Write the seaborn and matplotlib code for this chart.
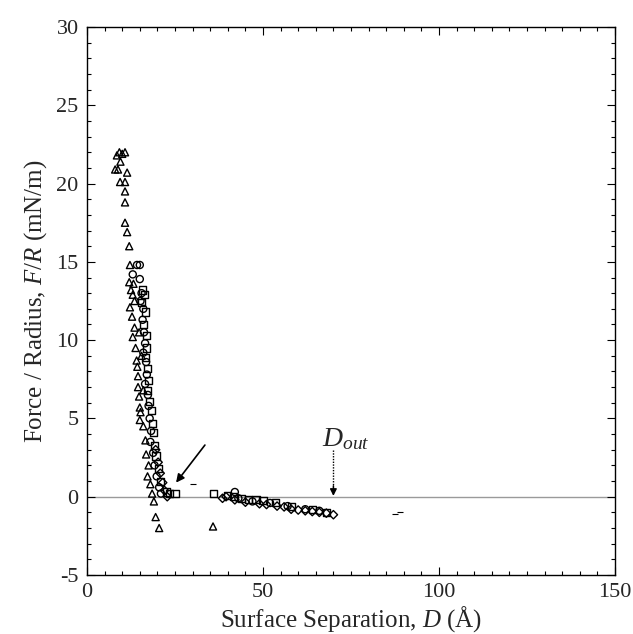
import matplotlib
matplotlib.use("Agg")
import matplotlib.pyplot as plt
import seaborn as sns
import pandas as pd

# ---- data ----
tri_D = [8.5, 9.2, 10.0, 10.8, 9.5, 8.0, 8.8, 11.4, 9.4, 10.8, 10.8, 10.8, 10.8, 11.4, 12.0,
         12.2, 12.0, 12.5, 13.0, 12.2, 13.5, 12.8, 13.5, 13.0, 13.8, 14.1, 14.3, 14.5, 14.5,
         14.8, 15.0, 15.2, 15.0, 16.0, 16.6, 16.8, 17.5, 17.2, 18.0, 18.5, 19.0, 19.5, 20.5,
         35.8, 14.8, 15.5, 16.0, 13.2]
tri_F = [21.8, 22.0, 21.9, 22.0, 21.4, 20.9, 20.9, 20.7, 20.1, 20.1, 19.5, 18.8, 17.5, 16.9, 16.0,
         14.8, 13.7, 13.2, 12.9, 12.1, 12.5, 11.5, 10.8, 10.2, 9.5, 8.7, 8.3, 7.7, 7.0,
         6.4, 5.7, 5.4, 4.9, 4.5, 3.6, 2.7, 2.0, 1.3, 0.8, 0.2, -0.3, -1.3, -2.0,
         -1.9, 10.5, 9.0, 6.8, 13.6]

cir_D = [14.2, 15.0, 13.0, 15.0, 15.5, 15.2, 16.0, 15.8, 16.2, 16.5, 16.0, 16.8, 17.0, 16.5,
         17.3, 17.5, 17.8, 18.2, 18.0, 18.8, 19.2, 19.8, 20.5, 21.0, 42.0, 43.0, 47.0, 52.0,
         57.0, 62.0, 66.0]
cir_F = [14.8, 14.8, 14.2, 13.9, 13.0, 12.5, 12.0, 11.3, 10.5, 9.8, 9.2, 8.6, 7.8, 7.2,
         6.5, 5.8, 5.0, 4.2, 3.5, 2.8, 2.0, 1.3, 0.6, 0.2, 0.3, -0.1, -0.3, -0.4,
         -0.6, -0.8, -0.9]

sq_D = [15.8, 16.3, 15.5, 16.5, 16.0, 16.8, 17.0, 16.7, 17.2, 17.6, 17.3, 17.8, 18.2, 18.6,
        19.0, 19.3, 19.6, 20.2, 21.0, 22.5, 23.5, 25.0, 36.0, 40.0, 41.5, 44.0, 46.0, 48.0,
        50.0, 53.5, 58.0, 64.0, 68.0]
sq_F = [13.2, 12.9, 12.4, 11.8, 11.0, 10.3, 9.5, 8.9, 8.2, 7.4, 6.8, 6.1, 5.5, 4.7,
        4.1, 3.3, 2.6, 1.8, 1.0, 0.3, 0.2, 0.2, 0.2, 0.1, 0.0, -0.1, -0.2, -0.2,
        -0.25, -0.35, -0.6, -0.8, -1.0]

dia_D = [19.5, 20.2, 20.8, 21.5, 22.0, 22.8, 38.5, 39.5, 42.0, 45.0, 49.0, 51.0, 54.0, 56.0,
         58.0, 60.0, 62.0, 64.0, 66.0, 68.0, 70.0]
dia_F = [3.0, 2.2, 1.5, 0.9, 0.4, 0.0, -0.1, 0.0, -0.2, -0.35, -0.45, -0.5, -0.6, -0.65,
         -0.8, -0.85, -0.9, -0.95, -1.0, -1.05, -1.15]

dash_D = [30.0, 87.5, 89.0]
dash_F = [0.8, -1.1, -1.0]

x_ticks = [0, 50, 100, 150]
y_ticks = [-5, 0, 5, 10, 15, 20, 25, 30]

# ---- style ----
sns.set_style("ticks")
plt.rcParams["font.family"] = ["Liberation Serif", "DejaVu Serif"]
plt.rcParams["mathtext.fontset"] = "custom"
plt.rcParams["mathtext.rm"] = "Liberation Serif"
plt.rcParams["mathtext.it"] = "Liberation Serif:italic"
plt.rcParams["axes.unicode_minus"] = False

fig = plt.figure(figsize=(6.33, 6.34), dpi=100)
ax = fig.add_axes([87 / 633, 59 / 634, (615 - 87) / 633, (575 - 27) / 634])

ax.axhline(0, color="#9a9a9a", lw=1.0, zorder=0)

series = [
    (tri_D, tri_F, "^"),
    (cir_D, cir_F, "o"),
    (sq_D, sq_F, "s"),
    (dia_D, dia_F, "D"),
]
for D, F, m in series:
    df = pd.DataFrame({"D": D, "F": F})
    sz = 26 if m != "D" else 18
    sns.scatterplot(data=df, x="D", y="F", marker=m, s=sz, facecolors="none",
                    edgecolors="black", linewidths=1.0, ax=ax, legend=False)

dfd = pd.DataFrame({"D": dash_D, "F": dash_F})
sns.scatterplot(data=dfd, x="D", y="F", marker="_", s=25, color="black",
                linewidths=0.8, ax=ax, legend=False)

# arrows and label
ax.annotate("", xy=(25.3, 0.9), xytext=(33.5, 3.3),
            arrowprops=dict(arrowstyle="-|>", color="black", lw=1.2,
                            mutation_scale=12, shrinkA=0, shrinkB=0))
ax.plot([70, 70], [3.0, 0.6], color="black", lw=1.0, ls=(0, (1, 1)))
ax.annotate("", xy=(70, 0.05), xytext=(70, 0.7),
            arrowprops=dict(arrowstyle="-|>", color="black", lw=1.0,
                            mutation_scale=10, shrinkA=0, shrinkB=0))
ax.text(73.5, 3.7, r"$D_{out}$", fontsize=20, ha="center", va="center")

ax.set_xlim(0, 150)
ax.set_ylim(-5, 30)
ax.set_xticks(x_ticks)
ax.set_yticks(y_ticks)
ax.set_xticks(range(0, 151, 5), minor=True)
ax.set_yticks(range(-5, 31, 1), minor=True)
ax.tick_params(which="both", direction="in", top=True, right=True, labelsize=16,
               width=0.8, color="black")
ax.tick_params(which="major", length=6, pad=6)
ax.tick_params(which="minor", length=3)
for s in ax.spines.values():
    s.set_linewidth(1.0)
    s.set_color("black")

ax.set_xlabel(r"Surface Separation, $D$ (Å)", fontsize=18, labelpad=1)
ax.set_ylabel(r"Force / Radius, $F/R$ (mN/m)", fontsize=18, labelpad=5)

fig.savefig("out.png", dpi=100)
